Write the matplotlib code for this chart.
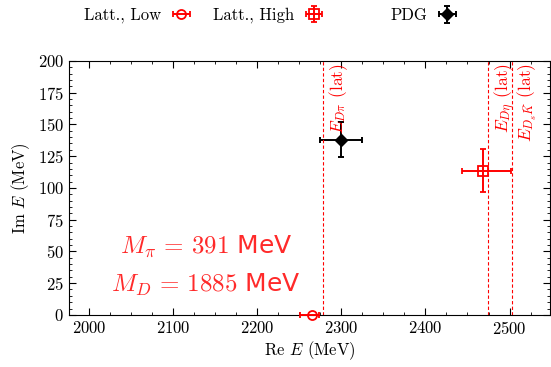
import matplotlib
matplotlib.use("Agg")
import matplotlib.pyplot as plt

plt.rcParams["font.family"] = "cmr10"
plt.rcParams["mathtext.fontset"] = "cm"
plt.rcParams["axes.formatter.use_mathtext"] = True

# data (MeV)
low_re = [2265]
low_im = [0]
low_xerr = [[14], [8]]

high_re = [2469]
high_im = [113]
high_xerr = [[25], [33]]
high_yerr = [[16], [18]]

pdg_re = [2300]
pdg_im = [138]
pdg_xerr = [25]
pdg_yerr = [14]

thresholds = [2278, 2474, 2503]
threshold_labels = [r"$E_{D\pi}$ (lat)", r"$E_{D\eta}$ (lat)", r"$E_{D_s\bar{K}}$ (lat)"]

fig = plt.figure(figsize=(5.51, 3.67), dpi=100)
ax = fig.add_axes([0.125, 0.142, 0.873, 0.692])

eb = dict(linewidth=1.4, elinewidth=1.4, capsize=2.5, capthick=1.4, markersize=6.5)
h1 = ax.errorbar(low_re, low_im, xerr=low_xerr, fmt="o", color="red",
                 markerfacecolor="none", markeredgewidth=1.3, label="Latt., Low",
                 clip_on=False, zorder=5, **eb)
h2 = ax.errorbar(high_re, high_im, xerr=high_xerr, yerr=high_yerr, fmt="s", color="red",
                 markerfacecolor="none", markeredgewidth=1.3, label="Latt., High", **eb)
h3 = ax.errorbar(pdg_re, pdg_im, xerr=pdg_xerr, yerr=pdg_yerr, fmt="D", color="black",
                 label="PDG", **eb)

for x, lab in zip(thresholds, threshold_labels):
    ax.axvline(x, color="red", linestyle=(0, (3, 2)), linewidth=0.8)
    ax.text(x + 5, 198, lab, rotation=90, color="red", ha="left", va="top", fontsize=12.5)

ax.text(2139, 54, r"$M_\pi\,=\,391$ MeV", color="#ff2a2a", ha="center", va="center",
        fontsize=18, family="DejaVu Sans")
ax.text(2139, 24, r"$M_D\,=\,1885$ MeV", color="#ff2a2a", ha="center", va="center",
        fontsize=18, family="DejaVu Sans")

ax.set_xlim(1976, 2548)
ax.set_ylim(0, 200)
ax.set_xticks([2000, 2100, 2200, 2300, 2400, 2500])
ax.set_yticks(range(0, 201, 25))
ax.set_xticks(range(2000, 2550, 25), minor=True)
ax.set_yticks(range(0, 201, 5), minor=True)
ax.tick_params(which="both", direction="in", top=True, right=True, labelsize=12)
ax.tick_params(which="major", length=5)
ax.tick_params(which="minor", length=2.5)
ax.set_xlabel(r"Re $E$ (MeV)", fontsize=12, labelpad=2)
ax.set_ylabel(r"Im $E$ (MeV)", fontsize=12)

leg_kw = dict(frameon=False, markerfirst=False, fontsize=12, handlelength=1.2,
              handletextpad=0.6, borderaxespad=0, borderpad=0)
for handle, x_right in zip([h1, h2, h3], [0.347, 0.588, 0.830]):
    fig.legend(handles=[handle], loc="center right",
               bbox_to_anchor=(x_right, 0.958), **leg_kw)

fig.savefig("out.png", dpi=100)
